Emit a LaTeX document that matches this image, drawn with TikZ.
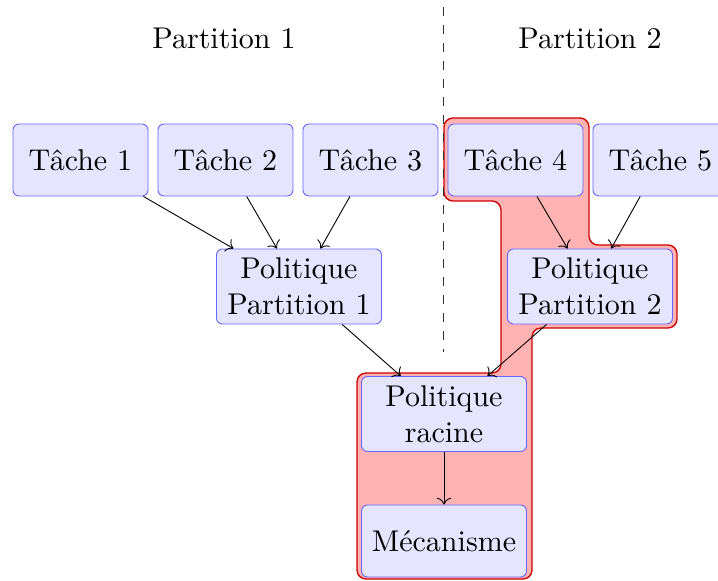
\documentclass[tikz,border=0pt]{standalone}
\usetikzlibrary{arrows.meta}
\begin{document}
\begin{tikzpicture}[x=0.33333pt,y=-0.33333pt, line width=0.3pt,
  box/.style={draw=blue!60, fill=blue!10, rounded corners=2pt, align=center, inner sep=1pt},
  tache/.style={box, minimum width=45pt, minimum height=24pt},
  pol/.style={box, minimum width=55pt, minimum height=25pt},
  region/.style={draw=red!80!black, fill=red!30, line width=0.45pt, rounded corners=3pt},
  arr/.style={->}]
\useasboundingbox (0,0) rectangle (718,581);
% highlighted region
\draw[region] (444,118) -- (589,118) -- (589,245) -- (677,245) -- (677,328) -- (532,328)
  -- (532,579) -- (357,579) -- (357,373) -- (501,373) -- (501,201) -- (444,201) -- cycle;
% partition separator
\coordinate (septop) at (443,7);
\coordinate (sepbot) at (443,352);
\draw[dashed, black!80] (septop) -- (sepbot);
\node (p1) at (224,38) {Partition 1};
\node (p2) at (590,38) {Partition 2};
% tasks
\node[tache] (t1) at (80.5,160) {Tâche 1};
\node[tache] (t2) at (225.5,160) {Tâche 2};
\node[tache] (t3) at (370.5,160) {Tâche 3};
\node[tache] (t4) at (515.5,160) {Tâche 4};
\node[tache] (t5) at (660.5,160) {Tâche 5};
% policies
\node[pol] (pp1) at (299,286.5) {Politique\\Partition 1};
\node[pol] (pp2) at (590,286.5) {Politique\\Partition 2};
\node[pol] (rac) at (444,414) {Politique\\racine};
\node[pol, minimum height=24pt] (mec) at (444,541) {Mécanisme};
% arrows
\draw[arr] (t1) -- (pp1);
\draw[arr] (t2) -- (pp1);
\draw[arr] (t3) -- (pp1);
\draw[arr] (t4) -- (pp2);
\draw[arr] (t5) -- (pp2);
\draw[arr] (pp1) -- (rac);
\draw[arr] (pp2) -- (rac);
\draw[arr] (rac) -- (mec);
\end{tikzpicture}
\end{document}
